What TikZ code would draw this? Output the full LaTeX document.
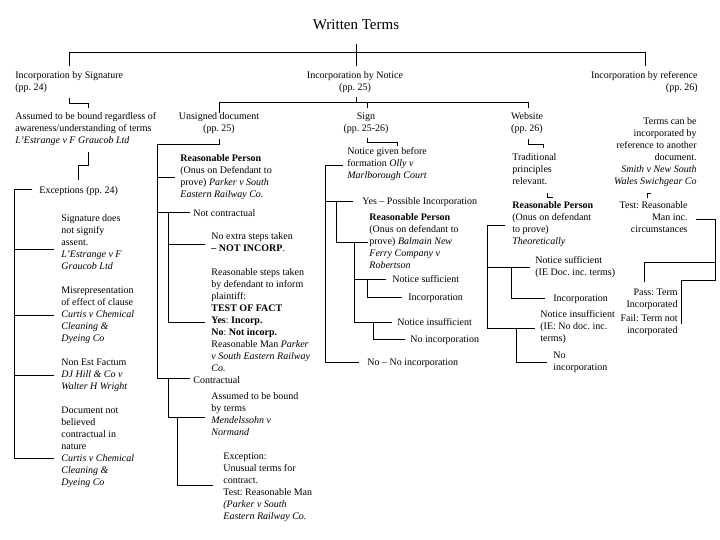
\documentclass[tikz,border=0pt]{standalone}
\usepackage{fontspec}
\setmainfont{Liberation Serif}
\begin{document}
\frenchspacing
\begin{tikzpicture}[x=1pt,y=-1pt,line width=0.8pt,
  t/.style={inner sep=0pt,anchor=north west,align=left,font=\fontsize{10}{12}\selectfont\frenchspacing,execute at begin node=\strut},
  tr/.style={t,anchor=north east,align=right},
  tc/.style={t,anchor=north,align=center}]
\useasboundingbox (0,0) rectangle (720,540);
% ---------- texts ----------
\node[anchor=base,inner sep=0pt,font=\fontsize{15}{18}\selectfont] (title) at (356,30) {Written Terms};
\node[t]  (sig)    at (15,71.5)  {Incorporation by Signature\\(pp. 24)};
\node[tc] (notice) at (355,71.5) {Incorporation by Notice\\(pp. 25)};
\node[tr] (ref)    at (698,71.5) {Incorporation by reference\\(pp. 26)};
\node[t]  (assumed) at (15,112.5) {Assumed to be bound regardless of\\awareness/understanding of terms\\\textit{L'Estrange v F Graucob Ltd}};
\node[t]  (exc) at (39,184.5) {Exceptions (pp. 24)};
\node[t]  (ex1) at (61,214.5) {Signature does\\not signify\\assent.\\\textit{L'Estrange v F}\\\textit{Graucob Ltd}};
\node[t]  (ex2) at (61,286.5) {Misrepresentation\\of effect of clause\\\textit{Curtis v Chemical}\\\textit{Cleaning \&}\\\textit{Dyeing Co}};
\node[t]  (ex3) at (61,358.5) {Non Est Factum\\\textit{DJ Hill \& Co v}\\\textit{Walter H Wright}};
\node[t]  (ex4) at (61,406.5) {Document not\\believed\\contractual in\\nature\\\textit{Curtis v Chemical}\\\textit{Cleaning \&}\\\textit{Dyeing Co}};
% notice children
\node[tc] (unsigned) at (219,112.5) {Unsigned document\\(pp. 25)};
\node[tc] (sign)     at (366,112.5) {Sign\\(pp. 25-26)};
\node[tc] (website)  at (527,112.5) {Website\\(pp. 26)};
% reference subtree
\node[tr] (refterms) at (697,117.5) {Terms can be\\incorporated by\\reference to another\\document.\\\textit{Smith v New South}\\\textit{Wales Swichgear Co}};
\node[tr] (test) at (688,201.5) {Test: Reasonable\\Man inc.\\circumstances};
\node[tr] (pass) at (678,288.5) {Pass: Term\\Incorporated};
\node[tr] (fail) at (678,314.5) {Fail: Term not\\incorporated};
% unsigned subtree
\node[t] (rp1) at (180,154.5) {\textbf{Reasonable Person}\\(Onus on Defendant to\\prove) \textit{Parker v South}\\\textit{Eastern Railway Co.}};
\node[t] (notc) at (193,207.5) {Not contractual};
\node[t] (noextra) at (211,232.5) {No extra steps taken\\\textbf{-- NOT INCORP}.};
\node[t] (steps) at (211,268.5) {Reasonable steps taken\\by defendant to inform\\plaintiff:\\\textbf{TEST OF FACT}\\\textbf{Yes}: \textbf{Incorp.}\\\textbf{No}: \textbf{Not incorp.}\\Reasonable Man \textit{Parker}\\\textit{v South Eastern Railway}\\\textit{Co.}};
\node[t] (contr) at (193,374.5) {Contractual};
\node[t] (bound) at (211,392.5) {Assumed to be bound\\by terms\\\textit{Mendelssohn v}\\\textit{Normand}};
\node[t] (exception) at (223,452.5) {Exception:\\Unusual terms for\\contract.\\Test: Reasonable Man\\\textit{(Parker v South}\\\textit{Eastern Railway Co.}};
% sign subtree
\node[t] (given) at (347,147.5) {Notice given before\\formation \textit{Olly v}\\\textit{Marlborough Court}};
\node[t] (yes) at (362,195.5) {Yes -- Possible Incorporation};
\node[t] (rp2) at (369,213.5) {\textbf{Reasonable Person}\\(Onus on defendant to\\prove) \textit{Balmain New}\\\textit{Ferry Company v}\\\textit{Robertson}};
\node[t] (ns) at (392,273.5) {Notice sufficient};
\node[t] (inc) at (408,291.5) {Incorporation};
\node[t] (ni) at (397,316.5) {Notice insufficient};
\node[t] (noinc) at (410,333.5) {No incorporation};
\node[t] (no) at (367,356.5) {No -- No incorporation};
% website subtree
\node[t] (trad) at (512,153.5) {Traditional\\principles\\relevant.};
\node[t] (rp3) at (512,201.5) {\textbf{Reasonable Person}\\(Onus on defendant\\to prove)\\\textit{Theoretically}};
\node[t] (wns) at (535,256.5) {Notice sufficient\\(IE Doc. inc. terms)};
\node[t] (winc) at (553,292.5) {Incorporation};
\node[t] (wni) at (540,310.5) {Notice insufficient\\(IE: No doc. inc.\\terms)};
\node[t] (wno) at (553,351.5) {No\\incorporation};
% ---------- connectors ----------
\draw (356,44) -- (356,66);
\draw (69,66) -- (69,52) -- (645,52) -- (645,66);
\draw (69,98) -- (69,103) -- (88,103) -- (88,108);
\draw (88,152) -- (88,165) -- (78,165) -- (78,180);
\draw (32,189) -- (14,189) -- (14,458) -- (54,458);
\draw (14,249) -- (54,249);
\draw (14,315) -- (54,315);
\draw (14,375) -- (54,375);
% notice
\draw (356,97) -- (356,102.5);
\draw (219,113) -- (219,102.5) -- (528,102.5) -- (528,108);
\draw (367,102.5) -- (367,108);
% unsigned
\draw (219,139) -- (219,144) -- (157,144) -- (157,378) -- (190,378);
\draw (157,177) -- (175,177);
\draw (157,212) -- (190,212);
\draw (168,212) -- (168,322) -- (205,322);
\draw (168,244) -- (205,244);
\draw (168,378) -- (168,417) -- (205,417);
\draw (177,417) -- (177,485) -- (213,485);
% sign
\draw (367,138) -- (367,142) -- (397,142) -- (397,146);
\draw (343,165) -- (325,165) -- (325,362) -- (359,362);
\draw (325,201) -- (353,201);
\draw (336,201) -- (336,242) -- (368,242);
\draw (354,242) -- (354,322) -- (392,322);
\draw (354,279) -- (386,279);
\draw (367,279) -- (367,297) -- (402,297);
\draw (373,322) -- (373,339) -- (405,339);
% website
\draw (528,139) -- (528,144) -- (543,144) -- (543,148);
\draw (547,193) -- (547,197) -- (553,197);
\draw (505,225) -- (487,225) -- (487,328) -- (535,328);
\draw (487,267) -- (530,267);
\draw (511,267) -- (511,298) -- (545,298);
\draw (516,328) -- (516,362) -- (547,362);
% reference
\draw (647,198) -- (647,193) -- (651,193);
\draw (696,219) -- (715,219) -- (715,280) -- (681,280) -- (681,324);
\draw (715,262) -- (644,262) -- (644,282);
\end{tikzpicture}
\end{document}
